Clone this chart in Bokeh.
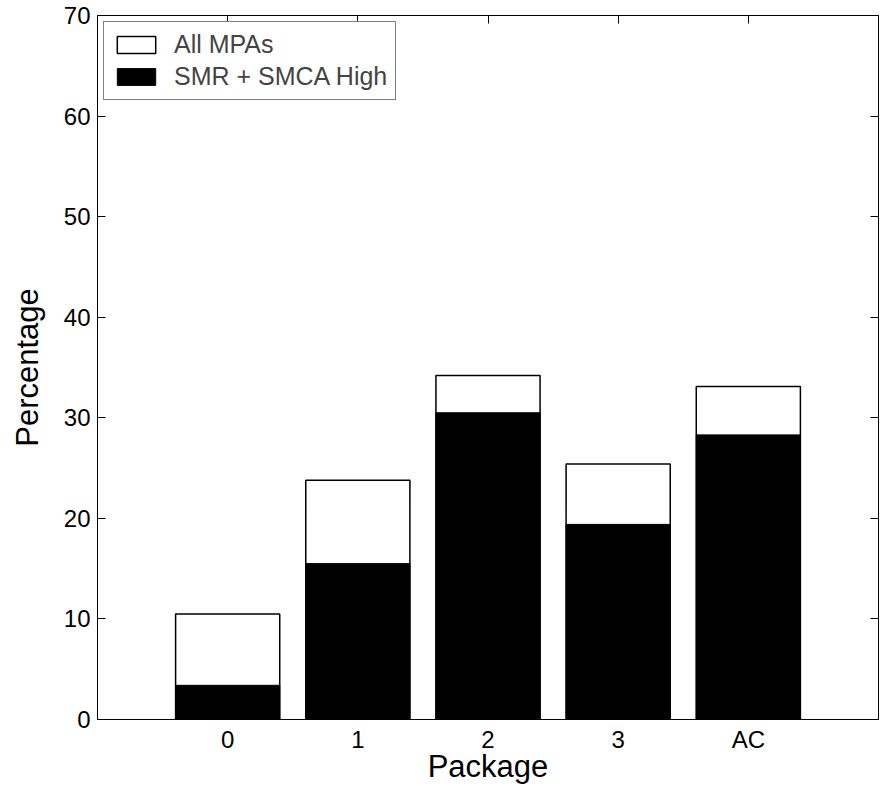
from bokeh.plotting import figure
from bokeh.models import FactorRange, Range1d, LinearAxis, CategoricalAxis, Legend, LegendItem, FixedTicker
from bokeh.embed import file_html
from bokeh.resources import INLINE

packages = ["0", "1", "2", "3", "AC"]
all_mpas = [10.5, 23.8, 34.2, 25.4, 33.1]
smr_smca_high = [3.4, 15.5, 30.5, 19.4, 28.3]
y_ticks = [0, 10, 20, 30, 40, 50, 60, 70]

FONT = "Liberation Sans"

p = figure(x_range=FactorRange(*packages, range_padding=0.2),
           y_range=Range1d(0, 70),
           frame_width=781, frame_height=704,
           min_border_left=97, min_border_right=2, min_border_top=15, min_border_bottom=50,
           output_backend="svg", toolbar_location=None)

p.xgrid.grid_line_color = None
p.ygrid.grid_line_color = None
p.outline_line_color = "black"
p.outline_line_width = 1
p.background_fill_color = "white"
p.border_fill_color = "white"

r_all = p.vbar(x=packages, top=all_mpas, width=0.8, fill_color="white", line_color="black", line_width=1.5)
r_smr = p.vbar(x=packages, top=smr_smca_high, width=0.8, fill_color="black", line_color="black", line_width=1)

for ax in [p.xaxis[0], p.yaxis[0]]:
    ax.major_tick_in = 8
    ax.major_tick_out = 0
    ax.minor_tick_line_color = None
    ax.axis_line_color = "black"
    ax.major_tick_line_color = "black"
    ax.major_label_text_font = FONT
    ax.major_label_text_font_size = "24px"
    ax.major_label_text_color = "black"
    ax.axis_label_text_font = FONT
    ax.axis_label_text_font_size = "31px"
    ax.axis_label_text_font_style = "normal"
    ax.axis_label_text_color = "black"

p.yaxis[0].ticker = FixedTicker(ticks=y_ticks)
p.yaxis[0].axis_label = "Percentage"
p.yaxis[0].major_label_standoff = 7
p.yaxis[0].axis_label_standoff = 16
p.xaxis[0].axis_label = "Package"
p.xaxis[0].major_label_standoff = 6
p.xaxis[0].axis_label_standoff = -7

right = LinearAxis(ticker=FixedTicker(ticks=y_ticks), major_tick_in=8, major_tick_out=0,
                   minor_tick_line_color=None, major_label_text_font_size="1px",
                   major_label_text_color=None, major_label_text_alpha=0,
                   major_label_standoff=0, axis_line_color="black")
p.add_layout(right, "right")
top = CategoricalAxis(major_tick_in=8, major_tick_out=0, major_label_text_font_size="1px",
                      major_label_text_color=None, major_label_text_alpha=0,
                      major_label_standoff=0, axis_line_color="black")
p.add_layout(top, "above")

legend = Legend(items=[LegendItem(label="All MPAs", renderers=[r_all]),
                       LegendItem(label="SMR + SMCA High", renderers=[r_smr])],
                location="top_left")
legend.margin = 6
legend.padding = 8
legend.spacing = 3
legend.border_line_color = "black"
legend.border_line_width = 1
legend.background_fill_alpha = 1
legend.label_text_font = FONT
legend.label_text_font_size = "25px"
legend.label_text_line_height = 1.0
legend.glyph_width = 48
legend.glyph_height = 21
legend.label_standoff = 14
p.add_layout(legend)

open("out.html", "w").write(file_html(p, INLINE))
